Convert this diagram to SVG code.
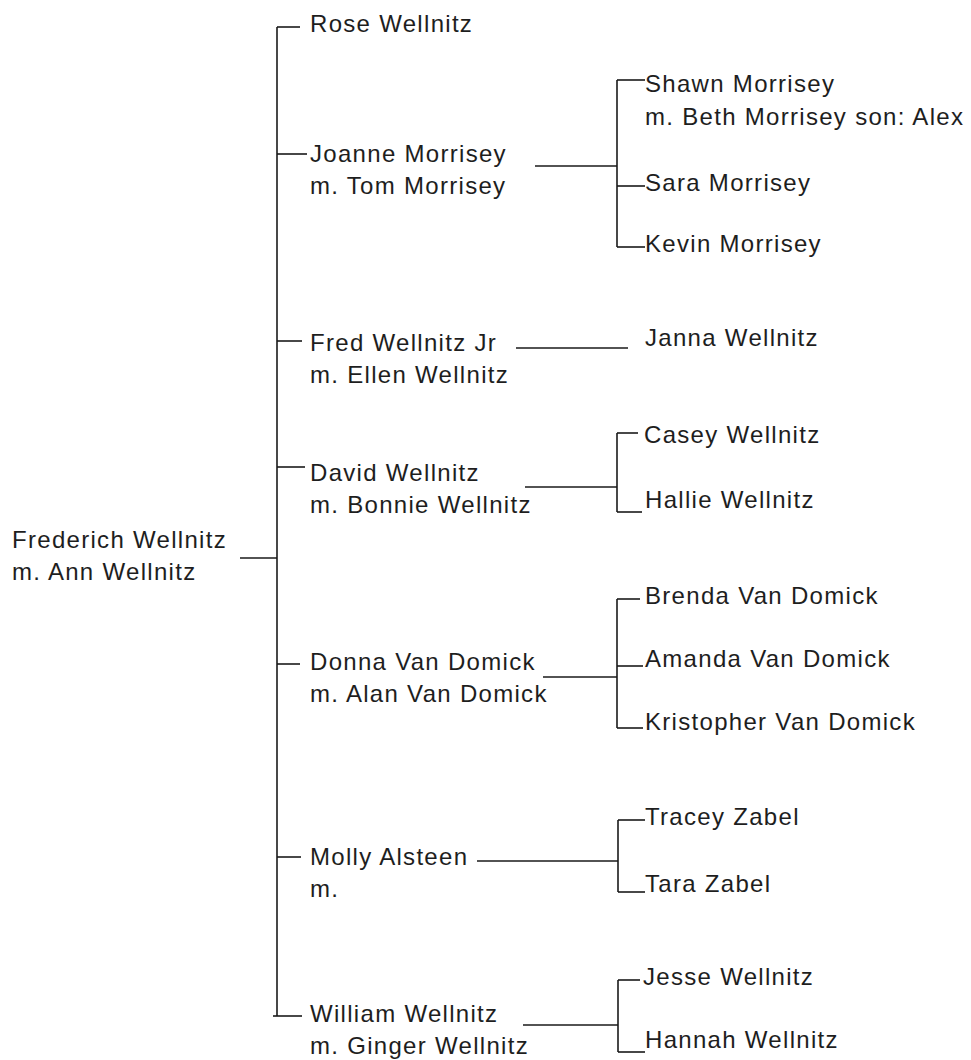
<svg xmlns="http://www.w3.org/2000/svg" width="971" height="1060" viewBox="0 0 971 1060">
  <style>
    .bg { fill: #ffffff; }
    text { font-family: "Liberation Sans", Arial, sans-serif; font-size: 24px; letter-spacing: 1.3px; fill: #1e1e1e; }
    .wire { fill: none; stroke: #1a1a1a; stroke-width: 1.6; stroke-linecap: butt; }
  </style>
  <rect class="bg" x="0" y="0" width="971" height="1060"/>

  <!-- tree lines -->
  <g id="connectors">
    <!-- root to trunk -->
    <path class="wire" d="M240 558 H277"/>
    <!-- trunk with branches to each child -->
    <path class="wire" d="M277 27 V1016"/>
    <path class="wire" d="M277 27 H300"/>
    <path class="wire" d="M277 154 H307"/>
    <path class="wire" d="M277 341 H302"/>
    <path class="wire" d="M277 467 H305"/>
    <path class="wire" d="M277 664 H300"/>
    <path class="wire" d="M277 857 H301"/>
    <path class="wire" d="M273 1016 H302"/>

    <!-- Joanne's family -->
    <path class="wire" d="M535 166 H617"/>
    <path class="wire" d="M617 80 V247"/>
    <path class="wire" d="M617 80 H645"/>
    <path class="wire" d="M617 186 H645"/>
    <path class="wire" d="M617 247 H645"/>

    <!-- Fred's family -->
    <path class="wire" d="M516 348 H628"/>

    <!-- David's family -->
    <path class="wire" d="M525 487 H617"/>
    <path class="wire" d="M617 433 V512"/>
    <path class="wire" d="M617 433 H638"/>
    <path class="wire" d="M617 512 H642"/>

    <!-- Donna's family -->
    <path class="wire" d="M543 677 H617"/>
    <path class="wire" d="M617 599 V728"/>
    <path class="wire" d="M617 599 H640"/>
    <path class="wire" d="M617 666 H643"/>
    <path class="wire" d="M617 728 H643"/>

    <!-- Molly's family -->
    <path class="wire" d="M477 861 H618"/>
    <path class="wire" d="M618 820 V892"/>
    <path class="wire" d="M618 820 H645"/>
    <path class="wire" d="M618 892 H645"/>

    <!-- William's family -->
    <path class="wire" d="M523 1025 H618"/>
    <path class="wire" d="M618 980 V1052"/>
    <path class="wire" d="M618 980 H640"/>
    <path class="wire" d="M618 1052 H645"/>
  </g>

  <!-- root couple -->
  <g id="frederich">
    <text x="12" y="548">Frederich Wellnitz</text>
    <text x="12" y="580">m. Ann Wellnitz</text>
  </g>

  <!-- children -->
  <g id="rose">
    <text x="310" y="32">Rose Wellnitz</text>
  </g>
  <g id="joanne">
    <text x="310" y="162">Joanne Morrisey</text>
    <text x="310" y="194">m. Tom Morrisey</text>
  </g>
  <g id="fred">
    <text x="310" y="351">Fred Wellnitz Jr</text>
    <text x="310" y="383">m. Ellen Wellnitz</text>
  </g>
  <g id="david">
    <text x="310" y="481">David Wellnitz</text>
    <text x="310" y="513">m. Bonnie Wellnitz</text>
  </g>
  <g id="donna">
    <text x="310" y="670">Donna Van Domick</text>
    <text x="310" y="702">m. Alan Van Domick</text>
  </g>
  <g id="molly">
    <text x="310" y="865">Molly Alsteen</text>
    <text x="310" y="897">m.</text>
  </g>
  <g id="william">
    <text x="310" y="1022">William Wellnitz</text>
    <text x="310" y="1054">m. Ginger Wellnitz</text>
  </g>

  <!-- grandchildren -->
  <g id="shawn">
    <text x="645" y="92">Shawn Morrisey</text>
    <text x="645" y="125">m. Beth Morrisey son: Alex</text>
  </g>
  <g id="sara">
    <text x="645" y="191">Sara Morrisey</text>
  </g>
  <g id="kevin">
    <text x="645" y="252">Kevin Morrisey</text>
  </g>
  <g id="janna">
    <text x="645" y="346">Janna Wellnitz</text>
  </g>
  <g id="casey">
    <text x="644" y="443">Casey Wellnitz</text>
  </g>
  <g id="hallie">
    <text x="645" y="508">Hallie Wellnitz</text>
  </g>
  <g id="brenda">
    <text x="645" y="604">Brenda Van Domick</text>
  </g>
  <g id="amanda">
    <text x="645" y="667">Amanda Van Domick</text>
  </g>
  <g id="kristopher">
    <text x="645" y="730">Kristopher Van Domick</text>
  </g>
  <g id="tracey">
    <text x="645" y="825">Tracey Zabel</text>
  </g>
  <g id="tara">
    <text x="645" y="892">Tara Zabel</text>
  </g>
  <g id="jesse">
    <text x="643" y="985">Jesse Wellnitz</text>
  </g>
  <g id="hannah">
    <text x="645" y="1048">Hannah Wellnitz</text>
  </g>
</svg>
